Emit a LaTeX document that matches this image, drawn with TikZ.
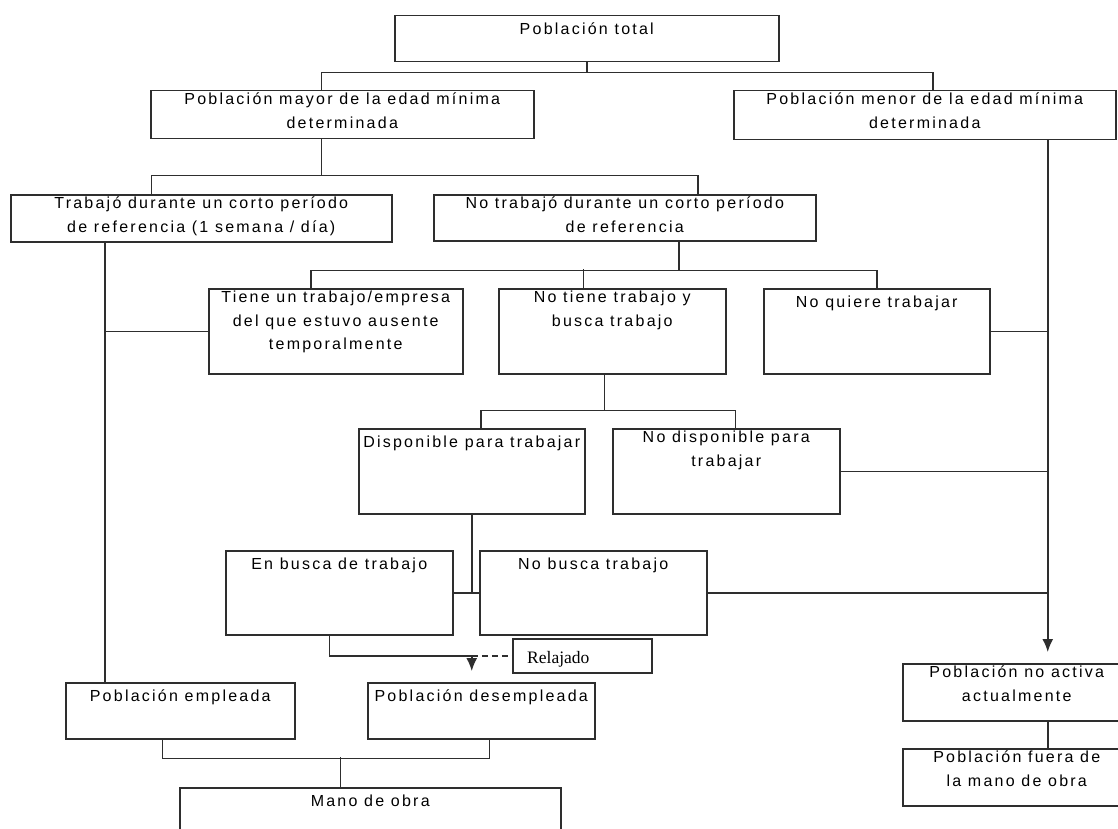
\documentclass[tikz,border=0pt]{standalone}
\usepackage{fontspec}
\usepackage{tikz}
\usetikzlibrary{arrows.meta,positioning,calc}
\newfontfamily\boxfont{Liberation Sans}[LetterSpace=14]
\newfontfamily\relfont{Liberation Serif}

\begin{document}
\begin{tikzpicture}[x=1pt, y=-1pt,
    box/.style={draw=black!82, line width=1.5pt, rectangle, anchor=north west, inner sep=0pt},
    lbl/.style={anchor=north, align=center, inner sep=0pt, text=black,
        font=\boxfont\fontsize{16}{23.5}\selectfont, execute at begin node={\rule{0pt}{16.5pt}}},
    link/.style={draw=black!82, line width=1.5pt},
    tip/.style={-{Latex[length=13pt,width=11pt]}}]

    % Page
    \fill[white] (0,0) rectangle (1118,829);
    \useasboundingbox (0,0) rectangle (1118,829);

    % Boxes
    \node[box, minimum width=384pt, minimum height=46pt] (total) at (394,15) {};
    \node[box, minimum width=383pt, minimum height=48pt] (mayor) at (150,90) {};
    \node[box, minimum width=382pt, minimum height=49pt] (menor) at (733,90) {};
    \node[box, minimum width=381pt, minimum height=47pt] (trab) at (10,194) {};
    \node[box, minimum width=382pt, minimum height=46pt] (notrab) at (433,194) {};
    \node[box, minimum width=254pt, minimum height=85pt] (tiene) at (208,288) {};
    \node[box, minimum width=227pt, minimum height=85pt] (notiene) at (498,288) {};
    \node[box, minimum width=226pt, minimum height=85pt] (noquiere) at (763,288) {};
    \node[box, minimum width=226pt, minimum height=85pt] (disp) at (358,428) {};
    \node[box, minimum width=227pt, minimum height=85pt] (nodisp) at (612,428) {};
    \node[box, minimum width=227pt, minimum height=84pt] (enbusca) at (225,550) {};
    \node[box, minimum width=227pt, minimum height=84pt] (nobusca) at (479,550) {};
    \node[box, minimum width=139pt, minimum height=34pt] (relaj) at (512,638) {};
    \node[box, minimum width=229pt, minimum height=56pt] (empl) at (65,682) {};
    \node[box, minimum width=227pt, minimum height=56pt] (desempl) at (367,682) {};
    \node[box, minimum width=381pt, minimum height=60pt] (mano) at (179,787) {};
    \node[box, minimum width=228pt, minimum height=57pt] (activa) at (902,663) {};
    \node[box, minimum width=228pt, minimum height=57pt] (fuera) at (902,748) {};

    % Texts
    \node[lbl] (total-t) at ([yshift=-3pt]total.north) {Población total};
    \node[lbl] (mayor-t) at ([yshift=-3pt]mayor.north) {Población mayor de la edad mínima\\determinada};
    \node[lbl] (menor-t) at ([yshift=-3pt]menor.north) {Población menor de la edad mínima\\determinada};
    \node[lbl] (trab-t) at ([yshift=-3pt]trab.north) {Trabajó durante un corto período\\de referencia (1 semana / día)};
    \node[lbl] (notrab-t) at ([yshift=-3pt]notrab.north) {No trabajó durante un corto período\\de referencia};
    \node[lbl] (tiene-t) at ([yshift=-3pt]tiene.north) {Tiene un trabajo/empresa\\del que estuvo ausente\\temporalmente};
    \node[lbl] (notiene-t) at ([yshift=-3pt]notiene.north) {No tiene trabajo y\\busca trabajo};
    \node[lbl] (noquiere-t) at ([yshift=-3pt]noquiere.north) {No quiere trabajar};
    \node[lbl] (disp-t) at ([yshift=-3pt]disp.north) {Disponible para trabajar};
    \node[lbl] (nodisp-t) at ([yshift=-3pt]nodisp.north) {No disponible para\\trabajar};
    \node[lbl] (enbusca-t) at ([yshift=-3pt]enbusca.north) {En busca de trabajo};
    \node[lbl] (nobusca-t) at ([yshift=-3pt]nobusca.north) {No busca trabajo};
    \node[anchor=base west, inner sep=0pt, font=\relfont\fontsize{17.5}{20}\selectfont] (relaj-t)
        at ([xshift=15pt, yshift=-8pt]relaj.west) {Relajado};
    \node[lbl] (empl-t) at ([yshift=-3pt]empl.north) {Población empleada};
    \node[lbl] (desempl-t) at ([yshift=-3pt]desempl.north) {Población desempleada};
    \node[lbl] (mano-t) at ([yshift=-3pt]mano.north) {Mano de obra};
    \node[lbl] (activa-t) at ([yshift=-3pt]activa.north) {Población no activa\\actualmente};
    \node[lbl] (fuera-t) at ([yshift=-3pt]fuera.north) {Población fuera de\\la mano de obra};

    % Total -> mayor / menor
    \draw[link] (total.south) -- ++(0,10);
    \draw[link] ([xshift=-21pt]mayor.north) |- ([yshift=-10pt]total.south) -| ([xshift=8pt]menor.north);

    % Mayor -> trabajo / no trabajo
    \draw[link] ([xshift=-21pt]mayor.south) -- ++(0,36);
    \draw[link] ([xshift=-50pt]trab.north) |- ([xshift=-21pt,yshift=-36pt]mayor.south) -| ([xshift=73pt]notrab.north);

    % No trabajo -> tres casos
    \draw[link] ([xshift=54pt]notrab.south) -- ++(0,29);
    \draw[link] ([xshift=-25pt]tiene.north) |- ([xshift=54pt,yshift=-29pt]notrab.south) -| (noquiere.north);
    \draw[link] ([xshift=-29pt]notiene.north) -- ++(0,-19);

    % Busca trabajo -> disponible / no disponible
    \draw[link] ([xshift=-8pt]notiene.south) -- ++(0,36);
    \draw[link] ([xshift=9pt]disp.north) |- ([xshift=-8pt,yshift=-36pt]notiene.south) -| ([xshift=9pt]nodisp.north);

    % Disponible -> en busca / no busca
    \draw[link] (disp.south) -- (disp.south |- enbusca.east);
    \draw[link] (enbusca.east) -- (nobusca.west);

    % En busca -> desempleada (relajado)
    \coordinate (rj) at (relaj.west -| disp.south);
    \draw[link] ([xshift=-10pt]enbusca.south) |- (rj);
    \draw[link, tip, shorten >=11pt] (rj) -- (rj |- desempl.north);
    \draw[link, dash pattern=on 6pt off 4pt] (rj) -- (relaj.west);

    % Trabajo -> empleada
    \coordinate (tr) at ([xshift=95pt]trab.south west);
    \draw[link] (tr) -- (tr |- empl.north);
    \draw[link] (tiene.west) -- (tiene.west -| tr);

    % Right trunk -> no activa
    \coordinate (rt) at ([xshift=123pt]menor.south);
    \draw[link, tip, shorten >=11pt] (rt) -- (rt |- activa.north);
    \draw[link] (noquiere.east) -- (noquiere.east -| rt);
    \draw[link] (nodisp.east) -- (nodisp.east -| rt);
    \draw[link] (nobusca.east) -- (nobusca.east -| rt);
    \draw[link] (activa.south -| rt) -- (fuera.north -| rt);

    % Empleada + desempleada -> mano de obra
    \draw[link] ([xshift=-18pt]empl.south) -- ++(0,19) -| ([xshift=8pt]desempl.south);
    \draw[link] ([xshift=-30pt]mano.north) -- ++(0,-30);
\end{tikzpicture}
\end{document}
